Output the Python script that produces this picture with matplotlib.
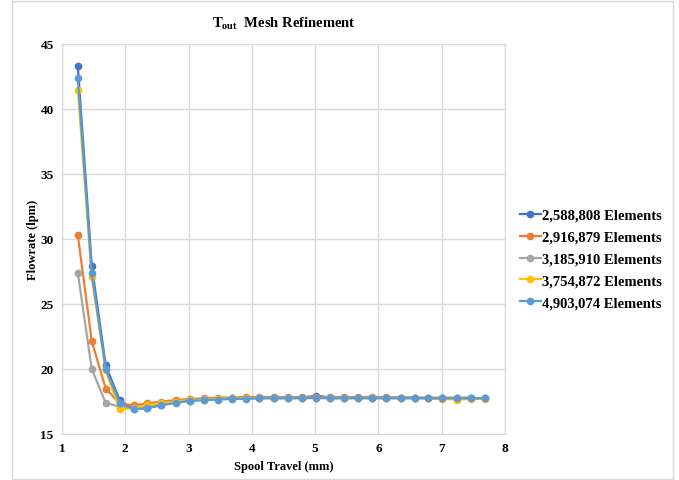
import matplotlib
matplotlib.use("Agg")
import matplotlib.pyplot as plt
from matplotlib.patches import Rectangle

plt.rcParams['font.family'] = ['Liberation Serif', 'DejaVu Serif']
plt.rcParams['mathtext.fontset'] = 'custom'
plt.rcParams['mathtext.rm'] = 'Liberation Serif'
plt.rcParams['mathtext.bf'] = 'Liberation Serif:bold'
plt.rcParams['mathtext.it'] = 'Liberation Serif:italic'

x_travel = [1.25, 1.47, 1.69, 1.91, 2.13, 2.35, 2.57, 2.80, 3.02, 3.24,
            3.46, 3.68, 3.90, 4.12, 4.35, 4.57, 4.79, 5.02, 5.24, 5.46,
            5.68, 5.90, 6.12, 6.35, 6.57, 6.79, 7.01, 7.24, 7.46, 7.68]

labels = ["2,588,808 Elements", "2,916,879 Elements", "3,185,910 Elements",
          "3,754,872 Elements", "4,903,074 Elements"]
colors = ["#4472C4", "#ED7D31", "#A5A5A5", "#FFC000", "#5B9BD5"]

flow_2588808 = [43.3, 27.95, 20.3, 17.6, 16.9, 17.0, 17.25, 17.45, 17.55, 17.65,
                17.7, 17.75, 17.75, 17.8, 17.8, 17.8, 17.8, 17.95, 17.8, 17.8,
                17.8, 17.8, 17.8, 17.8, 17.8, 17.75, 17.75, 17.75, 17.75, 17.75]
flow_2916879 = [30.3, 22.15, 18.5, 17.35, 17.2, 17.35, 17.5, 17.6, 17.7, 17.75,
                17.8, 17.8, 17.85, 17.85, 17.85, 17.85, 17.85, 17.85, 17.85, 17.85,
                17.85, 17.85, 17.85, 17.8, 17.8, 17.8, 17.8, 17.8, 17.8]
flow_3185910 = [27.4, 20.0, 17.4, 17.1, 17.0, 17.2, 17.4, 17.5, 17.6, 17.7,
                17.7, 17.75, 17.75, 17.8, 17.8, 17.8, 17.8, 17.8, 17.8, 17.8,
                17.8, 17.8, 17.8, 17.8, 17.8, 17.75, 17.75, 17.75, 17.75, 17.75]
flow_3754872 = [41.5, 27.05, 19.9, 16.9, 17.0, 17.2, 17.35, 17.5, 17.6, 17.65,
                17.7, 17.7, 17.75, 17.75, 17.75, 17.75, 17.75, 17.75, 17.75, 17.75,
                17.75, 17.75, 17.75, 17.75, 17.75, 17.75, 17.7, 17.65, 17.7, 17.7]
flow_4903074 = [42.4, 27.4, 20.0, 17.4, 16.9, 17.0, 17.2, 17.4, 17.55, 17.6,
                17.65, 17.7, 17.7, 17.75, 17.75, 17.75, 17.75, 17.8, 17.75, 17.75,
                17.75, 17.75, 17.75, 17.75, 17.75, 17.75, 17.75, 17.75, 17.75, 17.75]

series = [flow_2588808, flow_2916879, flow_3185910, flow_3754872, flow_4903074]

fig = plt.figure(figsize=(6.79, 4.81), dpi=100)
fig.patches.append(Rectangle((12 / 679, 1 / 481), 661 / 679, 478 / 481,
                             transform=fig.transFigure, fill=False,
                             edgecolor="#D9D9D9", linewidth=1))
ax = fig.add_axes([62 / 679, (481 - 435) / 481, 443 / 679, 390 / 481])

for ys, lab, col in zip(series, labels, colors):
    ax.plot(x_travel[:len(ys)], ys, color=col, lw=1.6, marker='o', ms=4.5,
            label=lab, zorder=3)

ax.set_xlim(1, 8)
ax.set_ylim(15, 45)
ax.set_xticks(range(1, 9))
ax.set_yticks(range(15, 50, 5))
ax.grid(True, color="#D9D9D9", lw=1)
ax.set_axisbelow(True)
for s in ax.spines.values():
    s.set_color("#D9D9D9")
ax.tick_params(length=0, labelsize=9.5, pad=6)
for t in ax.get_xticklabels() + ax.get_yticklabels():
    t.set_fontweight('bold')

ax.set_xlabel("Spool Travel (mm)", fontsize=9, fontweight='bold', labelpad=4)
ax.set_ylabel("Flowrate (lpm)", fontsize=9, fontweight='bold', labelpad=1)
ax.set_title(r"$\mathbf{T_{out}}$  Mesh Refinement", fontsize=10.5,
             fontweight='bold', pad=12)

leg = fig.legend(loc='center left', bbox_to_anchor=(507 / 679, 1 - 260 / 481),
                 frameon=False, handlelength=1.4, handletextpad=0.1,
                 labelspacing=0.6, prop={'weight': 'bold', 'size': 10.5})

fig.savefig("out.png", dpi=100)
